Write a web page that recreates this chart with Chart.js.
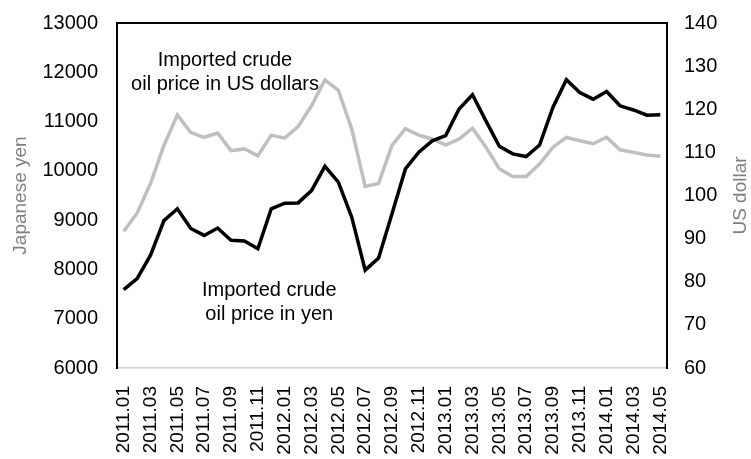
<!DOCTYPE html>
<html>
<head>
<meta charset="utf-8">
<script src="https://cdn.jsdelivr.net/npm/chart.js@4.4.0/dist/chart.umd.min.js"></script>
<style>
    html, body { margin: 0; padding: 0; background: #fff; }
</style>
</head>
<body>
<canvas id="oilChart" width="751" height="459"></canvas>
<script>
// Data
const months = [
    '2011.01', '2011.02', '2011.03', '2011.04', '2011.05', '2011.06', '2011.07', '2011.08', '2011.09', '2011.10', '2011.11', '2011.12',
    '2012.01', '2012.02', '2012.03', '2012.04', '2012.05', '2012.06', '2012.07', '2012.08', '2012.09', '2012.10', '2012.11', '2012.12',
    '2013.01', '2013.02', '2013.03', '2013.04', '2013.05', '2013.06', '2013.07', '2013.08', '2013.09', '2013.10', '2013.11', '2013.12',
    '2014.01', '2014.02', '2014.03', '2014.04', '2014.05'
];

// Imported crude oil price in yen (left axis)
const yenPrice = [
    7590, 7815, 8290, 8990, 9230, 8830, 8690, 8840, 8590, 8575, 8420, 9230,
    9345, 9350, 9600, 10090, 9770, 9060, 7985, 8230, 9130, 10040, 10380, 10610,
    10715, 11255, 11545, 11015, 10500, 10345, 10290, 10525, 11290, 11850, 11590, 11455,
    11610, 11320, 11235, 11130, 11140
];

// Imported crude oil price in US dollars (right axis)
const usdPrice = [
    91.7, 95.9, 102.8, 111.6, 118.7, 114.6, 113.5, 114.5, 110.4, 110.8, 109.2, 114.0,
    113.3, 116.0, 120.8, 126.8, 124.4, 115.4, 102.1, 102.8, 111.6, 115.5, 114.0, 113.1,
    111.7, 113.1, 115.6, 111.2, 106.2, 104.4, 104.4, 107.3, 111.2, 113.5, 112.7, 112.0,
    113.5, 110.6, 110.0, 109.4, 109.1
];

// Axis ranges
const yenAxis = [6000, 13000, 1000];
const usdAxis = [60, 140, 10];

const FONT = "'Liberation Sans', Arial, sans-serif";
const TITLE_GREY = '#7f7f7f';

// Box top border, in-chart labels and the right axis title
const framePlugin = {
    id: 'frame',
    afterDraw(chart) {
        const { ctx, chartArea, scales } = chart;
        ctx.save();

        // top edge of the plot box
        ctx.strokeStyle = '#000';
        ctx.lineWidth = 2;
        ctx.beginPath();
        ctx.moveTo(chartArea.left, chartArea.top);
        ctx.lineTo(chartArea.right, chartArea.top);
        ctx.stroke();

        // series labels, placed in data units
        const notes = [
            { lines: ['Imported crude', 'oil price in US dollars'], x: 7.55, y: 12231 },
            { lines: ['Imported crude', 'oil price in yen'], x: 10.85, y: 7578 }
        ];
        ctx.fillStyle = '#000';
        ctx.font = '20px ' + FONT;
        ctx.textAlign = 'center';
        ctx.textBaseline = 'middle';
        notes.forEach(n => {
            const px = scales.x.getPixelForValue(n.x);
            const py = scales.y.getPixelForValue(n.y);
            n.lines.forEach((t, i) => ctx.fillText(t, px, py + i * 24));
        });

        // right axis title, reading bottom to top like the left one
        ctx.fillStyle = TITLE_GREY;
        ctx.font = '19px ' + FONT;
        ctx.translate(741, (chartArea.top + chartArea.bottom) / 2);
        ctx.rotate(-Math.PI / 2);
        ctx.fillText('US dollar', 0, 0);
        ctx.restore();
    }
};

const plainNumber = value => String(value);

const ctx = document.getElementById('oilChart');

new Chart(ctx, {
    type: 'line',
    data: {
        labels: months,
        datasets: [
            {
                label: 'Imported crude oil price in yen',
                data: yenPrice,
                yAxisID: 'y',
                borderColor: '#000000',
                borderWidth: 3.5,
                pointRadius: 0,
                tension: 0
            },
            {
                label: 'Imported crude oil price in US dollars',
                data: usdPrice,
                yAxisID: 'y2',
                borderColor: '#bfbfbf',
                borderWidth: 3.5,
                pointRadius: 0,
                tension: 0
            }
        ]
    },
    options: {
        responsive: false,
        animation: false,
        layout: {
            padding: { top: 22, left: 0, right: 0, bottom: 0 }
        },
        plugins: {
            legend: { display: false },
            tooltip: { enabled: false }
        },
        scales: {
            x: {
                type: 'category',
                offset: true,
                grid: { display: false },
                border: { color: '#d0d0d0', width: 1.5 },
                ticks: {
                    autoSkip: false,
                    maxRotation: 90,
                    minRotation: 90,
                    padding: 10,
                    color: '#000',
                    font: { family: FONT, size: 19 },
                    callback: function (value, index) {
                        return index % 2 === 0 ? this.getLabelForValue(value) : '';
                    }
                },
                afterFit: function (scale) {
                    scale.height = 91;
                }
            },
            y: {
                position: 'left',
                min: yenAxis[0],
                max: yenAxis[1],
                grid: { display: false },
                border: { color: '#000', width: 2 },
                ticks: {
                    stepSize: yenAxis[2],
                    padding: 11,
                    color: '#000',
                    font: { family: FONT, size: 20 },
                    callback: plainNumber
                },
                title: {
                    display: true,
                    text: 'Japanese yen',
                    color: TITLE_GREY,
                    font: { family: FONT, size: 19 },
                    padding: { top: 9, bottom: 0 }
                },
                afterFit: function (scale) {
                    scale.width = 117;
                }
            },
            y2: {
                position: 'right',
                min: usdAxis[0],
                max: usdAxis[1],
                grid: { display: false },
                border: { color: '#000', width: 2 },
                ticks: {
                    stepSize: usdAxis[2],
                    padding: 9,
                    color: '#000',
                    font: { family: FONT, size: 20 },
                    callback: plainNumber
                },
                afterFit: function (scale) {
                    scale.width = 84;
                }
            }
        }
    },
    plugins: [framePlugin]
});
</script>
</body>
</html>
